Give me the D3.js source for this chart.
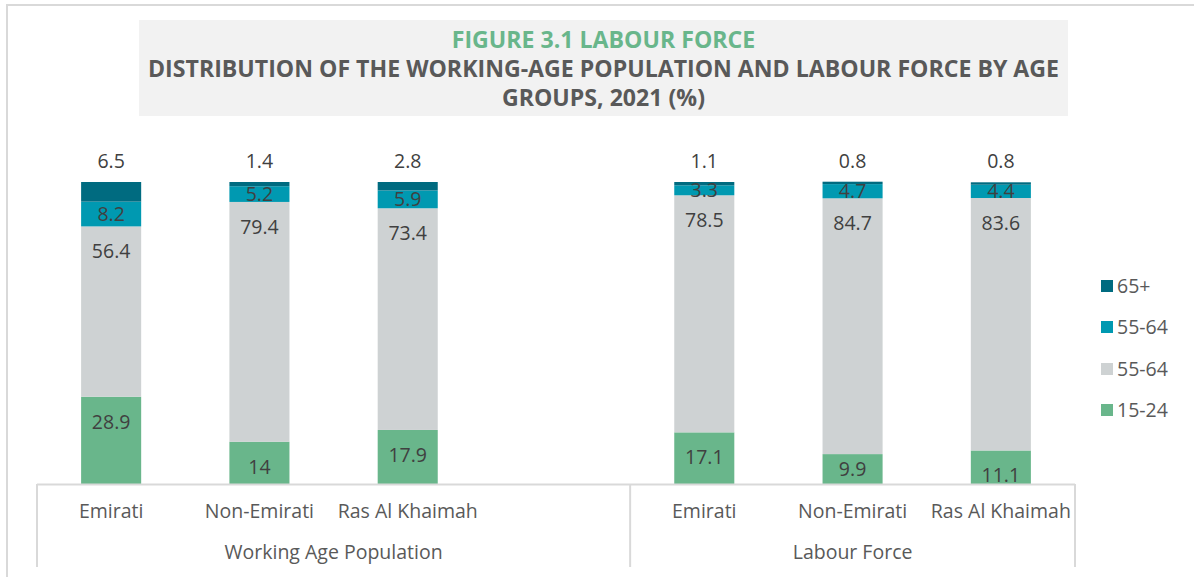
<!DOCTYPE html>
<html>
<head>
<meta charset="utf-8">
<script src="https://cdn.jsdelivr.net/npm/d3@7"></script>
<style>
    body { margin: 0; background: #fff; font-family: "Open Sans", sans-serif; }
    svg { display: block; }
</style>
</head>
<body>
<div id="viz-area"></div>
<script>
// ---- data ----
const groups = ["Working Age Population", "Labour Force"];
const subCategories = ["Emirati", "Non-Emirati", "Ras Al Khaimah"];
const seriesNames = ["15-24", "25-54", "55-64", "65+"];
const legendLabels = ["65+", "55-64", "55-64", "15-24"];   // as printed in the source
const age15_24 = [28.9, 14, 17.9, 17.1, 9.9, 11.1];
const age25_54 = [56.4, 79.4, 73.4, 78.5, 84.7, 83.6];
const age55_64 = [8.2, 5.2, 5.9, 3.3, 4.7, 4.4];
const age65plus = [6.5, 1.4, 2.8, 1.1, 0.8, 0.8];
const titleLines = [
    "FIGURE 3.1 LABOUR FORCE",
    "DISTRIBUTION OF THE WORKING-AGE POPULATION AND LABOUR FORCE BY AGE",
    "GROUPS, 2021 (%)"
];

const width = 1194;
const height = 577;
const colors = { "15-24": "#69b68b", "25-54": "#ced2d3", "55-64": "#0099b1", "65+": "#006b80" };
const legendColors = ["#006b80", "#0099b1", "#ced2d3", "#69b68b"];
const textColor = "#595959";
const labelColor = "#404040";

// one slot per bar, the first group has an empty slot at its end
const slots = [];
groups.forEach((g, gi) => {
    subCategories.forEach(c => slots.push(g + "|" + c));
    if (gi === 0) slots.push(g + "|");
});

const rows = [];
groups.forEach((g, gi) => {
    subCategories.forEach((c, ci) => {
        const k = gi * subCategories.length + ci;
        rows.push({
            key: g + "|" + c,
            "15-24": age15_24[k],
            "25-54": age25_54[k],
            "55-64": age55_64[k],
            "65+": age65plus[k]
        });
    });
});

const svg = d3.select("#viz-area").append("svg")
    .attr("width", width)
    .attr("height", height);

// outer frame (only top and left edges are visible)
svg.append("path")
    .attr("d", `M7,${height} V5 H${width}`)
    .attr("fill", "none")
    .attr("stroke", "#d9d9d9")
    .attr("stroke-width", 2);

// ---- title ----
svg.append("rect")
    .attr("x", 139).attr("y", 20)
    .attr("width", 929).attr("height", 96)
    .attr("fill", "#f2f2f2");

const titleY = [48, 77, 105.5];
const titleText = svg.append("g")
    .attr("font-weight", 700)
    .attr("font-size", 22.5)
    .attr("text-anchor", "middle");

const tNodes = titleLines.map((t, idx) => titleText.append("text")
    .attr("x", 603.5)
    .attr("y", titleY[idx])
    .attr("fill", idx === 0 ? "#69b68b" : textColor)
    .text(t));

// fit to the measured width of the long line in the source
const ratio = 911 / tNodes[1].node().getComputedTextLength();
tNodes.forEach(n => {
    n.attr("textLength", n.node().getComputedTextLength() * ratio)
     .attr("lengthAdjust", "spacingAndGlyphs");
});

// ---- scales ----
const x = d3.scaleBand()
    .domain(slots)
    .range([37, 1075])
    .paddingInner(0.595)
    .paddingOuter(0.2975);

const y = d3.scaleLinear()
    .domain([0, 100])
    .range([484, 182]);

const stack = d3.stack().keys(seriesNames);
const stacked = stack(rows);

// ---- bars ----
const layer = svg.append("g").selectAll("g")
    .data(stacked)
    .join("g")
    .attr("fill", d => colors[d.key]);

layer.selectAll("rect")
    .data(d => d)
    .join("rect")
    .attr("x", d => x(d.data.key))
    .attr("y", d => y(d[1]))
    .attr("width", x.bandwidth())
    .attr("height", d => y(d[0]) - y(d[1]));

// ---- value labels ----
const labels = svg.append("g")
    .attr("font-size", 19.5)
    .attr("fill", labelColor)
    .attr("text-anchor", "middle");

stacked.forEach(s => {
    s.forEach(d => {
        const top = y(d[1]);
        const bottom = y(d[0]);
        const h = bottom - top;
        let cy;
        if (s.key === "65+") cy = top - 21;          // above the bar
        else cy = h >= 32 ? top + 25 : top + h / 2;  // inside end
        labels.append("text")
            .attr("x", x(d.data.key) + x.bandwidth() / 2)
            .attr("y", cy)
            .attr("dy", "0.36em")
            .text(d.data[s.key]);
    });
});

// ---- multi-level category axis ----
const axisColor = "#d9d9d9";
const step = x.step();
const axisG = svg.append("g");

axisG.append("line")
    .attr("x1", 37).attr("x2", 1075)
    .attr("y1", 484.5).attr("y2", 484.5)
    .attr("stroke", axisColor).attr("stroke-width", 2);

const groupBounds = groups.map(g => {
    const own = slots.filter(s => s.startsWith(g + "|"));
    const x0 = x(own[0]) - step * x.paddingInner() / 2;
    const x1 = x(own[own.length - 1]) + x.bandwidth() + step * x.paddingInner() / 2;
    return { name: g, x0, x1 };
});

const sepX = [groupBounds[0].x0, groupBounds[1].x0, groupBounds[1].x1];
axisG.selectAll("line.sep")
    .data(sepX)
    .join("line")
    .attr("class", "sep")
    .attr("x1", d => d).attr("x2", d => d)
    .attr("y1", 484).attr("y2", 567)
    .attr("stroke", axisColor).attr("stroke-width", 2);

const bottomAxis = d3.axisBottom(x)
    .tickSize(0)
    .tickPadding(0)
    .tickFormat(d => d.split("|")[1]);

const tickG = svg.append("g")
    .attr("transform", "translate(0,484)")
    .call(bottomAxis);
tickG.select(".domain").remove();
tickG.selectAll("text")
    .attr("y", 34)
    .attr("dy", 0)
    .attr("font-family", "Open Sans, sans-serif")
    .attr("font-size", 19.5)
    .attr("fill", textColor);

axisG.selectAll("text.group")
    .data(groupBounds)
    .join("text")
    .attr("class", "group")
    .attr("x", d => (d.x0 + d.x1) / 2)
    .attr("y", 559)
    .attr("text-anchor", "middle")
    .attr("font-size", 19.5)
    .attr("fill", textColor)
    .text(d => d.name);

// ---- legend ----
const legendY = [286, 327, 369, 410];
const legend = svg.append("g").selectAll("g")
    .data(legendLabels)
    .join("g")
    .attr("transform", (d, idx) => `translate(1101,${legendY[idx]})`);

legend.append("rect")
    .attr("x", 0).attr("y", -6)
    .attr("width", 12).attr("height", 12)
    .attr("fill", (d, idx) => legendColors[idx]);

legend.append("text")
    .attr("x", 16)
    .attr("dy", "0.36em")
    .attr("font-size", 19.5)
    .attr("fill", textColor)
    .text(d => d);
</script>
</body>
</html>
